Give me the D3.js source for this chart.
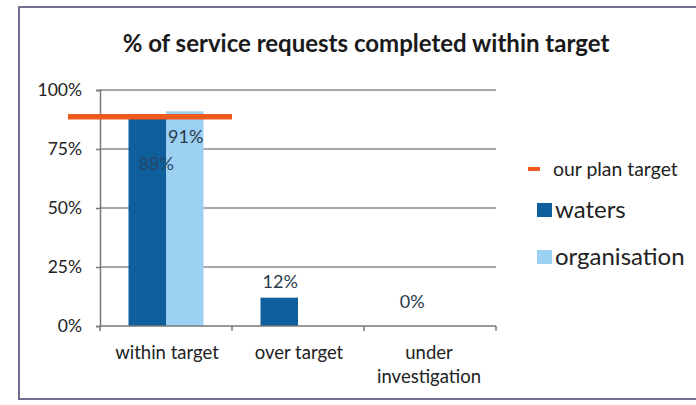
<!DOCTYPE html>
<html><head><meta charset="utf-8">
<script src="https://cdn.jsdelivr.net/npm/d3@7"></script>
<style>
html,body{margin:0;padding:0;background:#fff;}
svg{display:block;font-family:Lato, "Noto Sans", sans-serif;}
</style></head>
<body>
<svg id="chart" width="696" height="405"></svg>
<script>
const categories = ["within target", "over target", "under investigation"];
const seriesNames = ["waters", "organisation"];
const watersValues = [0.88, 0.12, 0];
const organisationValues = [0.91, null, null];
const targetValue = 0.887;
const yTicks = [0, 0.25, 0.5, 0.75, 1];
const titleText = "% of service requests completed within target";
const legendTargetLabel = "our plan target";

(function () {
const colors = {waters: "#0e5f9c", organisation: "#9dd1f3", target: "#ef5a1d"};
const svg = d3.select("#chart");

// frame
svg.append("rect").attr("x", 19).attr("y", 7).attr("width", 690).attr("height", 392)
  .attr("fill", "#fff").attr("stroke", "#6f6f8f").attr("stroke-width", 2);

const pLeft = 100, pRight = 496, pTop = 90, pBottom = 326;
const x0 = d3.scaleBand().domain(categories).range([pLeft, pRight]).padding(0);
const x1 = d3.scaleBand().domain(seriesNames).range([0, x0.bandwidth()]).paddingInner(0).paddingOuter(0.76);
const y = d3.scaleLinear().domain([0, 1]).range([pBottom, pTop]);

// title
svg.append("text").attr("x", 366).attr("y", 52).attr("text-anchor", "middle")
  .attr("font-weight", "bold").attr("font-size", 24).attr("fill", "#1a1a1a").text(titleText);

// gridlines
svg.append("g").selectAll("line").data(yTicks.filter(d => d > 0)).join("line")
  .attr("x1", pLeft).attr("x2", pRight).attr("y1", d => y(d)).attr("y2", d => y(d))
  .attr("stroke", "#8a8a8a").attr("stroke-width", 1.5);

// y axis
const yAxis = svg.append("g").attr("transform", `translate(${pLeft},0)`)
  .call(d3.axisLeft(y).tickValues(yTicks).tickFormat(d3.format(".0%")).tickSize(4).tickPadding(14));
yAxis.select(".domain").attr("stroke", "#777").attr("stroke-width", 1.5);
yAxis.selectAll(".tick line").attr("stroke", "#777").attr("stroke-width", 1.5);
yAxis.selectAll("text").attr("font-size", 17.5).attr("fill", "#222").attr("font-family", "Lato");

// bars
const rows = categories.map((c, i) => ({cat: c, vals: [
  {s: "waters", v: watersValues[i]}, {s: "organisation", v: organisationValues[i]}]}));
const g = svg.append("g");
rows.forEach(r => {
  r.vals.forEach(d => {
    if (d.v == null || d.v === 0) return;
    g.append("rect").attr("x", x0(r.cat) + x1(d.s)).attr("width", x1.bandwidth())
      .attr("y", y(d.v)).attr("height", y(0) - y(d.v)).attr("fill", colors[d.s]);
  });
});

// x axis
const xAxisG = svg.append("g").attr("transform", `translate(0,${pBottom})`);
xAxisG.append("line").attr("x1", pLeft).attr("x2", pRight).attr("stroke", "#777").attr("stroke-width", 1.5);
xAxisG.selectAll(".tk").data(categories.map(c => x0(c)).concat([pRight])).join("line")
  .attr("x1", d => d).attr("x2", d => d).attr("y1", 0).attr("y2", 5)
  .attr("stroke", "#777").attr("stroke-width", 1.5);
categories.forEach(c => {
  const words = c === "under investigation" ? ["under", "investigation"] : [c];
  words.forEach((w, k) => {
    xAxisG.append("text").attr("x", x0(c) + x0.bandwidth() / 2 + (words.length > 1 ? -1 : 1))
      .attr("y", 33 + k * 24).attr("text-anchor", "middle").attr("font-size", 18.5)
      .attr("fill", "#222").text(w);
  });
});

// target line
svg.append("line").attr("x1", pLeft - 32).attr("x2", x0(categories[0]) + x0.bandwidth())
  .attr("y1", y(targetValue)).attr("y2", y(targetValue))
  .attr("stroke", colors.target).attr("stroke-width", 5.5);

// data labels
const fmt = d3.format(".0%");
const labelOffsets = {"within target": {waters: 52, organisation: 32}, "over target": {waters: -10}, "under investigation": {waters: -18}};
rows.forEach(r => {
  r.vals.forEach(d => {
    if (d.v == null) return;
    const dark = r.cat === "within target" && d.s === "waters";
    g.append("text").attr("x", x0(r.cat) + x1(d.s) + x1.bandwidth() / 2 + (dark ? 9 : 1))
      .attr("y", y(d.v) + labelOffsets[r.cat][d.s]).attr("text-anchor", "middle")
      .attr("font-size", 18).attr("fill", dark ? "#24466a" : "#2a3a4a").text(fmt(d.v));
  });
});

// legend
const lg = svg.append("g");
lg.append("line").attr("x1", 528).attr("x2", 540).attr("y1", 169).attr("y2", 169)
  .attr("stroke", colors.target).attr("stroke-width", 4);
lg.append("text").attr("x", 553).attr("y", 176).attr("font-size", 19.4).attr("fill", "#222").text(legendTargetLabel);
seriesNames.forEach((s, i) => {
  const yy = 210 + i * 47;
  lg.append("rect").attr("x", 537).attr("y", yy - 7).attr("width", 15).attr("height", 14).attr("fill", colors[s]);
  lg.append("text").attr("x", 555).attr("y", yy + 8).attr("font-size", 24).attr("fill", "#222").text(s);
});
})();
</script>
</body></html>
